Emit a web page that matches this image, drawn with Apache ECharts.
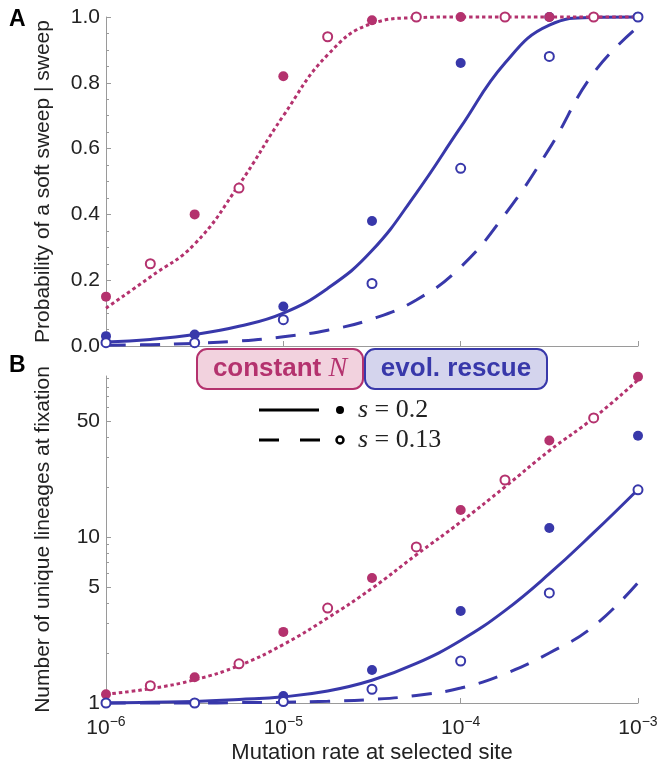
<!DOCTYPE html>
<html><head><meta charset="utf-8">
<script src="https://cdn.jsdelivr.net/npm/echarts@6/dist/echarts.min.js"></script>
<style>html,body{margin:0;padding:0;background:#fff}#c{width:660px;height:769px}</style>
</head><body><div id="c"></div>
<script>
// ---- x positions (mutation rate) ----
const curveMu = [1e-6, 1.778e-6, 3.162e-6, 5.623e-6, 1e-5, 1.778e-5, 3.162e-5, 5.623e-5, 1e-4, 1.778e-4, 3.162e-4, 5.623e-4, 1e-3];
const ptMuHalf = [1e-6, 3.162e-6, 1e-5, 3.162e-5, 1e-4, 3.162e-4, 1e-3];
const ptMuQuarter = [1.778e-6, 5.623e-6, 1.778e-5, 5.623e-5, 1.778e-4, 5.623e-4];

// ---- Panel A: probability of a soft sweep ----
const aConstCurve  = [0.115, 0.21, 0.31, 0.49, 0.70, 0.885, 0.98, 0.998, 1, 1, 1, 1, 1];
const aRescueS02   = [0.012, 0.02, 0.035, 0.06, 0.10, 0.175, 0.29, 0.465, 0.665, 0.86, 0.975, 0.999, 1];
const aRescueS013  = [0.002, 0.004, 0.008, 0.015, 0.028, 0.048, 0.082, 0.14, 0.24, 0.40, 0.60, 0.83, 0.97];
const aConstPtS02  = [0.15, 0.40, 0.82, 0.99, 1.0, 1.0, 1.0];      // at ptMuHalf
const aConstPtS013 = [0.25, 0.48, 0.94, 1.0, 1.0, 1.0];            // at ptMuQuarter
const aRescPtS02   = [0.03, 0.035, 0.12, 0.38, 0.86, 1.0, 1.0];    // at ptMuHalf
const aRescPtS013  = [0.01, 0.01, 0.08, 0.19, 0.54, 0.88, 1.0];    // at ptMuHalf

// ---- Panel B: number of unique lineages ----
const bConstCurve  = [1.13, 1.22, 1.38, 1.68, 2.25, 3.25, 4.9, 7.8, 12.3, 20, 33, 52, 88];
const bRescueS02   = [1.0, 1.01, 1.02, 1.05, 1.09, 1.18, 1.37, 1.73, 2.38, 3.6, 6.0, 10.6, 19.3];
const bRescueS013  = [1.0, 1.0, 1.0, 1.005, 1.01, 1.025, 1.05, 1.11, 1.23, 1.5, 2.0, 2.9, 5.3];
const bConstPtS02  = [1.13, 1.43, 2.68, 5.66, 14.5, 38, 92];
const bConstPtS013 = [1.27, 1.72, 3.73, 8.7, 22, 52];
const bRescPtS02   = [1.0, 1.0, 1.1, 1.58, 3.58, 11.3, 40.6];
const bRescPtS013  = [1.0, 1.0, 1.02, 1.21, 1.79, 4.6, 19.2];

// ---- tick labels ----
const aYTicks = [0, 0.2, 0.4, 0.6, 0.8, 1.0];
const bYMajor = [1, 5, 10, 50];
const bYMinor = [2, 3, 4, 6, 7, 8, 9, 20, 30, 40, 60, 70, 80, 90];
const bYMax = 93;

const MAG = '#b4326e', BLUE = '#3838aa', AX = '#9a9a9a';
const FONT = '"Liberation Sans", Arial, Helvetica, sans-serif';
const SERIF = '"Liberation Serif", "Times New Roman", serif';

const pair = (xs, ys) => xs.map((x, i) => [x, ys[i]]);
const log10 = v => Math.log10(v);

function lineSeries(name, xi, yi, xs, ys, color, type) {
  return { name, type: 'line', xAxisIndex: xi, yAxisIndex: yi, data: pair(xs, ys),
    symbol: 'none', smooth: 0.45, clip: false, z: 2,
    lineStyle: { color, width: 3, type, cap: 'butt', opacity: 1 } };
}
function ptSeries(name, xi, yi, xs, ys, color, open, z) {
  return { name, type: 'scatter', xAxisIndex: xi, yAxisIndex: yi, data: pair(xs, ys),
    symbol: open ? 'emptyCircle' : 'circle', symbolSize: open ? 9 : 10, z: z, clip: false,
    itemStyle: open ? { color, borderColor: color, borderWidth: 2.6, opacity: 1 } : { color, opacity: 1 } };
}

const xLabel = {
  show: true, margin: 12,
  formatter: v => '{b|10}{s|\u2212' + Math.abs(Math.round(Math.log10(v))) + '}',
  rich: {
    b: { fontFamily: FONT, fontSize: 21, color: '#222' },
    s: { fontFamily: FONT, fontSize: 14, color: '#222', padding: [0, 0, 12, 0] }
  }
};

const baseX = gi => ({
  type: 'log', gridIndex: gi, min: 1e-6, max: 1e-3, logBase: 10,
  axisLine: { show: true, lineStyle: { color: AX, width: 1 } },
  axisTick: { show: true, inside: true, length: 5, lineStyle: { color: AX } },
  splitLine: { show: false }, minorTick: { show: false }, minorSplitLine: { show: false }
});

const option = {
  animation: false,
  backgroundColor: '#fff',
  grid: [
    { left: 106, right: 22, top: 17, height: 329, containLabel: false, outerBoundsMode: 'none' },
    { left: 106, right: 22, top: 376, height: 327, containLabel: false, outerBoundsMode: 'none' }
  ],
  xAxis: [
    Object.assign(baseX(0), { axisLabel: { show: false } }),
    Object.assign(baseX(1), { axisLabel: xLabel,
      name: 'Mutation rate at selected site', nameLocation: 'middle', nameGap: 39,
      nameTextStyle: { fontFamily: FONT, fontSize: 22, color: '#222' } })
  ],
  yAxis: [
    { type: 'value', gridIndex: 0, position: 'left', min: 0, max: 1, interval: 0.2,
      axisLine: { show: true, lineStyle: { color: AX } },
      axisTick: { show: true, inside: true, length: 5, lineStyle: { color: AX } },
      minorTick: { show: true, splitNumber: 4, length: 3, lineStyle: { color: AX } },
      splitLine: { show: false },
      axisLabel: { margin: 6, fontFamily: FONT, fontSize: 21, color: '#222', formatter: v => v.toFixed(1),
        customValues: aYTicks },
      name: 'Probability of a soft sweep | sweep', nameLocation: 'middle', nameGap: 52,
      nameTextStyle: { fontFamily: FONT, fontSize: 21, color: '#222' } },
    // data axis for panel B (log)
    { type: 'log', gridIndex: 1, position: 'left', offset: 0, min: 1, max: bYMax, logBase: 10,
      axisLine: { show: true, lineStyle: { color: AX } },
      axisTick: { show: false }, axisLabel: { show: false }, splitLine: { show: false },
      name: 'Number of unique lineages at fixation', nameLocation: 'middle', nameGap: 52,
      nameTextStyle: { fontFamily: FONT, fontSize: 21, color: '#222' } },
    // major ticks + labels for panel B (log10 space)
    { type: 'value', gridIndex: 1, position: 'left', offset: 0, min: 0, max: log10(bYMax),
      axisLine: { show: false }, splitLine: { show: false },
      axisTick: { show: true, inside: true, length: 5, lineStyle: { color: AX }, customValues: bYMajor.map(log10) },
      axisLabel: { margin: 6, fontFamily: FONT, fontSize: 21, color: '#222',
        customValues: bYMajor.map(log10), formatter: v => String(Math.round(Math.pow(10, v))) } },
    // minor ticks for panel B
    { type: 'value', gridIndex: 1, position: 'left', offset: 0, min: 0, max: log10(bYMax),
      axisLine: { show: false }, splitLine: { show: false }, axisLabel: { show: false },
      axisTick: { show: true, inside: true, length: 3, lineStyle: { color: AX }, customValues: bYMinor.map(log10) } }
  ],
  series: [
    lineSeries('A rescue s=0.13', 0, 0, curveMu, aRescueS013, BLUE, [20, 14]),
    lineSeries('A rescue s=0.2', 0, 0, curveMu, aRescueS02, BLUE, 'solid'),
    lineSeries('A constant N', 0, 0, curveMu, aConstCurve, MAG, [3.5, 3]),
    ptSeries('A rescue pts s=0.2', 0, 0, ptMuHalf, aRescPtS02, BLUE, false, 3),
    ptSeries('A const pts s=0.2', 0, 0, ptMuHalf, aConstPtS02, MAG, false, 4),
    ptSeries('A const pts s=0.13', 0, 0, ptMuQuarter, aConstPtS013, MAG, true, 4),
    ptSeries('A rescue pts s=0.13', 0, 0, ptMuHalf, aRescPtS013, BLUE, true, 5),

    lineSeries('B rescue s=0.13', 1, 1, curveMu, bRescueS013, BLUE, [20, 14]),
    lineSeries('B rescue s=0.2', 1, 1, curveMu, bRescueS02, BLUE, 'solid'),
    lineSeries('B constant N', 1, 1, curveMu, bConstCurve, MAG, [3.5, 3]),
    ptSeries('B rescue pts s=0.2', 1, 1, ptMuHalf, bRescPtS02, BLUE, false, 3),
    ptSeries('B const pts s=0.2', 1, 1, ptMuHalf, bConstPtS02, MAG, false, 4),
    ptSeries('B const pts s=0.13', 1, 1, ptMuQuarter, bConstPtS013, MAG, true, 4),
    ptSeries('B rescue pts s=0.13', 1, 1, ptMuHalf, bRescPtS013, BLUE, true, 5)
  ],
  graphic: [
    { type: 'text', x: 9, y: 20, style: { text: 'A', font: 'bold 23px ' + FONT, fill: '#000', verticalAlign: 'middle' } },
    { type: 'text', x: 9, y: 366, style: { text: 'B', font: 'bold 23px ' + FONT, fill: '#000', verticalAlign: 'middle' } },
    { type: 'rect', shape: { x: 197, y: 349, width: 166, height: 40, r: 10 }, style: { fill: '#f2d2de', stroke: MAG, lineWidth: 2 }, z: 10 },
    { type: 'rect', shape: { x: 365, y: 349, width: 182, height: 40, r: 10 }, style: { fill: '#d4d4ed', stroke: BLUE, lineWidth: 2 }, z: 10 },
    { type: 'text', x: 280, y: 369, z: 11, style: { text: '{a|constant }{n|N}', align: 'center', verticalAlign: 'middle',
        rich: { a: { fontFamily: FONT, fontWeight: 'bold', fontSize: 26, fill: MAG, color: MAG },
                n: { fontFamily: SERIF, fontStyle: 'italic', fontSize: 28, fill: MAG, color: MAG } } } },
    { type: 'text', x: 456, y: 369, z: 11, style: { text: 'evol. rescue', align: 'center', verticalAlign: 'middle',
        font: 'bold 26px ' + FONT, fill: BLUE } },
    { type: 'line', shape: { x1: 259, y1: 410, x2: 319, y2: 410 }, style: { stroke: '#000', lineWidth: 3 }, z: 10 },
    { type: 'circle', shape: { cx: 340, cy: 410, r: 4 }, style: { fill: '#000' }, z: 10 },
    { type: 'text', x: 358, y: 410, z: 10, style: { text: '{i|s} = 0.2', verticalAlign: 'middle',
        font: '26px ' + SERIF, fill: '#222',
        rich: { i: { fontFamily: SERIF, fontStyle: 'italic', fontSize: 26, fill: '#222', color: '#222' } } } },
    { type: 'line', shape: { x1: 259, y1: 440, x2: 321, y2: 440 }, style: { stroke: '#000', lineWidth: 3, lineDash: [20, 21] }, z: 10 },
    { type: 'circle', shape: { cx: 340, cy: 440, r: 3.5 }, style: { fill: '#fff', stroke: '#000', lineWidth: 2.5 }, z: 10 },
    { type: 'text', x: 358, y: 440, z: 10, style: { text: '{i|s} = 0.13', verticalAlign: 'middle',
        font: '26px ' + SERIF, fill: '#222',
        rich: { i: { fontFamily: SERIF, fontStyle: 'italic', fontSize: 26, fill: '#222', color: '#222' } } } }
  ]
};

const chart = echarts.init(document.getElementById('c'), null, { renderer: 'canvas' });
chart.setOption(option);
</script>
</body></html>
